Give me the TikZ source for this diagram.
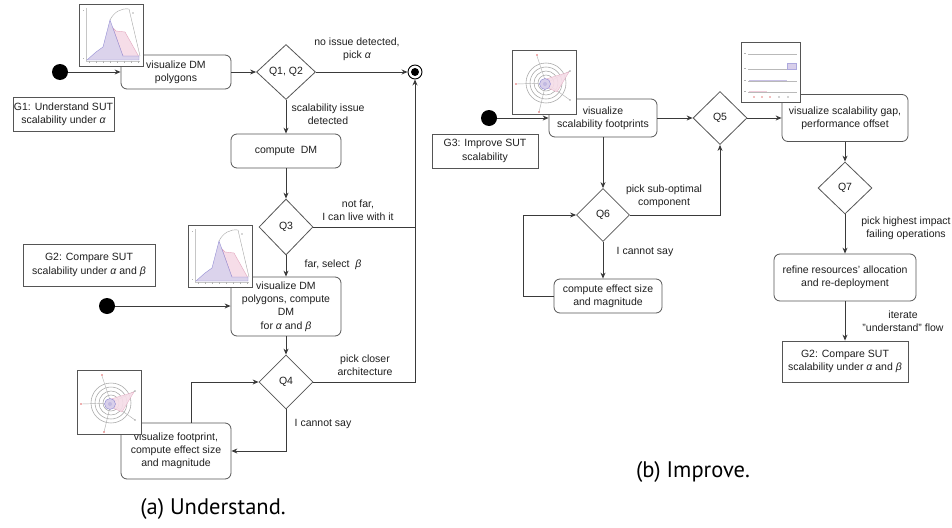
\documentclass[tikz,border=0pt]{standalone}
\usepackage{fontspec}
\setmainfont{Liberation Sans}
\newfontfamily\capfont{PT Sans}
\usetikzlibrary{shapes.geometric,arrows.meta}
\definecolor{boxc}{HTML}{555555}
\definecolor{linec}{HTML}{3A3A3A}
\definecolor{lav}{HTML}{D8CFEA}
\definecolor{bluec}{HTML}{8A84D0}
\definecolor{pinkf}{HTML}{F6DDE8}
\definecolor{pinkl}{HTML}{E3A6BE}
\definecolor{redm}{HTML}{E06060}
\tikzset{
  txt/.style={font=\fontsize{10.5}{13.2}\selectfont, align=center, text=black!88},
  box/.style={txt, draw=boxc, rounded corners=6pt, line width=0.8pt, fill=white, inner sep=1pt},
  goal/.style={txt, draw=boxc, line width=0.8pt, fill=white, inner sep=1pt},
  dia/.style={txt, draw=boxc, diamond, line width=0.8pt, fill=white, inner sep=0pt, aspect=1},
  startc/.style={circle, fill=black, minimum size=16pt, inner sep=0pt},
  conn/.style={draw=linec, line width=0.85pt},
  arr/.style={conn, -{Stealth[length=6pt,width=5pt]}},
  lab/.style={txt, inner sep=0pt},
  thumb/.style={draw=boxc, line width=0.8pt, fill=white},
  capt/.style={font=\capfont\fontsize{22.5}{26}\selectfont, inner sep=0pt},
}
\newcommand\dmthumb[2]{%
\begin{scope}[shift={(#1,#2)}]
 \filldraw[thumb] (0,0) rectangle (64,62);
 \draw[gray!45,line width=0.3pt] (7,4) -- (7,57) -- (61,57);
 \foreach \t in {10,17,...,60} \draw[gray!60,line width=0.3pt] (\t,57) -- (\t,59);
 \draw[gray!60,line width=0.3pt] (4,6) -- (5,6) (4,54) -- (5,54);
 \fill[pinkf,draw=pinkl,line width=0.4pt] (34,24) -- (37,27) -- (46,28) -- (60,53) -- (44,53) -- cycle;
 \fill[lav,opacity=0.9,draw=bluec,line width=0.4pt] (8,56) -- (17,48) -- (24,43) -- (31,16) -- (44,52) -- (60,52) -- (60,56) -- cycle;
 \draw[gray!70,line width=0.4pt] (31,16) .. controls (35,8) and (42,4) .. (50,5) -- (61,52);
 \fill[gray!60] (54,9) circle (0.8pt);
\end{scope}}
\newcommand\radarthumb[2]{%
\begin{scope}[shift={(#1,#2)}]
 \filldraw[thumb] (0,0) rectangle (64,64);
 \foreach \r in {20,16,12,8} \draw[gray!70,line width=0.55pt] (34,33) circle (\r pt);
 \foreach \p in {(25,6),(5,34),(27,62),(58,21),(58,50)} \draw[gray!60,line width=0.45pt] (34,33) -- \p;
 \fill[pinkf,opacity=0.9,draw=pinkl,line width=0.3pt] (34,29) -- (57,22) -- (45,42) -- (34,37) -- cycle;
 \fill[lav,draw=bluec,line width=0.4pt] (33,34) circle (5.5pt);
 \fill[lav!70!bluec] (33,34) circle (2pt);
 \foreach \p in {(25,5),(4,34),(27,62)} \fill[redm] \p circle (0.9pt);
 \foreach \p in {(58,21),(58,50)} \fill[gray!70] \p circle (0.9pt);
\end{scope}}
\newcommand\barthumb[2]{%
\begin{scope}[shift={(#1,#2)}]
 \filldraw[thumb] (0,0) rectangle (59,60);
 \foreach \y in {12,27,39,50} \draw[gray!55,line width=0.4pt] (7,\y) -- (56,\y);
 \foreach \y in {12,27,39,50} \draw[gray!60,line width=0.6pt] (3,\y-1) -- (5,\y-1);
 \fill[lav,draw=bluec!70,line width=0.3pt] (46,21) rectangle (55,27);
 \fill[lav!80!bluec] (8,37.5) rectangle (46,39);
 \fill[pinkf!70!pinkl] (8,48.6) rectangle (26,50);
 \foreach \x in {13,21,29} \fill[redm!80] (\x,55) circle (0.8pt);
 \foreach \x in {38,47} \fill[gray!70] (\x,55) circle (0.8pt);
\end{scope}}
\begin{document}
\begin{tikzpicture}[x=1pt,y=-1pt]
\useasboundingbox (0,0) rectangle (952,527);
% ---------------- (a) Understand ----------------
\node[startc] (s1) at (60,72) {};
\node[box, minimum width=110pt, minimum height=34pt] (b1) at (176,72) {visualize DM\\polygons};
\node[dia, minimum width=59pt, minimum height=55pt] (q12) at (286,72) {Q1, Q2};
\node[circle, draw=black, line width=0.9pt, minimum size=14pt, inner sep=0pt, fill=white] (e1) at (415,72) {};
\fill[black] (e1) circle (4pt);
\node[goal, minimum width=101pt, minimum height=34pt] (g1) at (63.5,114) {G1: Understand SUT\\scalability under {\itshape α}};
\node[box, minimum width=110pt, minimum height=34pt] (cdm) at (286,151) {compute\ \ DM};
\node[dia, minimum width=54pt, minimum height=56pt] (q3) at (286,227) {Q3};
\node[box, minimum width=110pt, minimum height=59pt] (b2) at (286,306.5) {visualize DM\\polygons, compute\\DM\\for {\itshape α} and {\itshape β}};
\node[goal, minimum width=132pt, minimum height=42pt] (g2) at (89,265) {G2: Compare SUT\\scalability under {\itshape α} and {\itshape β}};
\node[startc] (s2) at (107,306) {};
\node[dia, minimum width=54pt, minimum height=54pt] (q4) at (286,382) {Q4};
\node[box, minimum width=110pt, minimum height=56pt] (b3) at (176,451) {visualize footprint,\\compute effect size\\and magnitude};

\draw[arr] (s1) -- (s1 -| b1.west);
\draw[arr] (b1.east |- q12.west) -- (q12.west);
\draw[arr] (q12.east) -- (e1.west);
\draw[arr] (q12.south) -- (cdm.north);
\draw[arr] (cdm.south) -- (q3.north);
\draw[arr] (q3.east) -| (e1.south);
\draw[arr] (q3.south) -- (b2.north);
\draw[arr] (s2) -- (s2 -| b2.west);
\draw[arr] (b2.south) -- (q4.north);
\draw[conn] (q4.east) -| (q3.east -| e1.south);
\draw[arr] (q4.south) |- (b3.east);
\coordinate (b3up) at ([xshift=15pt]b3.north);
\draw[arr] (b3up) |- (q4.west);

\node[lab] (l1) at (357,49.5) {no issue detected,\\pick {\itshape α}};
\node[lab] (l2) at (328,114) {scalability issue\\detected};
\node[lab] (l3) at (358,210.5) {not far,\\I can live with it};
\node[lab] (l4) at (333,265) {far, select\ \ {\itshape β}};
\node[lab] (l5) at (365,365) {pick closer\\architecture};
\node[lab] (l6) at (323,424) {I cannot say};

\dmthumb{79}{4}
\dmthumb{188}{225}
\radarthumb{77}{370}

\node[capt] (capa) at (213,509) {(a) Understand.};

% ---------------- (b) Improve ----------------
\node[startc] (s3) at (489,118) {};
\node[box, minimum width=108pt, minimum height=38pt] (b4) at (603,118) {visualize\\scalability footprints};
\node[goal, minimum width=106pt, minimum height=34pt] (g3) at (485,151) {G3: Improve SUT\\scalability};
\node[dia, minimum width=54pt, minimum height=53pt] (q5) at (720,118) {Q5};
\node[box, minimum width=126pt, minimum height=47pt] (b5) at (845,118) {visualize scalability gap,\\performance offset};
\node[dia, minimum width=54pt, minimum height=52pt] (q7) at (845,188) {Q7};
\node[box, minimum width=142pt, minimum height=47pt] (b6) at (845,277.5) {refine resources' allocation\\and re-deployment};
\node[goal, minimum width=126pt, minimum height=41pt] (g2b) at (845,361.5) {G2: Compare SUT\\scalability under {\itshape α} and {\itshape β}};
\node[dia, minimum width=53pt, minimum height=53pt] (q6) at (603,215) {Q6};
\node[box, minimum width=108pt, minimum height=34pt] (b7) at (608,296) {compute effect size\\and magnitude};

\draw[arr] (s3) -- (s3 -| b4.west);
\draw[arr] (b4.east) -- (q5.west);
\draw[arr] (q5.east) -- (b5.west);
\draw[arr] (b4.south) -- (q6.north);
\draw[arr] (q6.east) -| (q5.south);
\draw[arr] (q6.south) -- (q6.south |- b7.north);
\coordinate (loopx) at (523,296);
\draw[arr] (b7.west) -- (loopx) |- (q6.west);
\draw[arr] (b5.south) -- (q7.north);
\draw[arr] (q7.south) -- (b6.north);
\draw[arr] (b6.south) -- (g2b.north);

\node[lab] (l7) at (664,196) {pick sub-optimal\\component};
\node[lab] (l8) at (645,252) {I cannot say};
\node[lab] (l9) at (906,228.5) {pick highest impact\\failing operations};
\node[lab] (l10) at (903,321.5) {iterate\\"understand" flow};

\radarthumb{512}{50}
\barthumb{741}{42}

\node[capt] (capb) at (693,472) {(b) Improve.};
\end{tikzpicture}
\end{document}
